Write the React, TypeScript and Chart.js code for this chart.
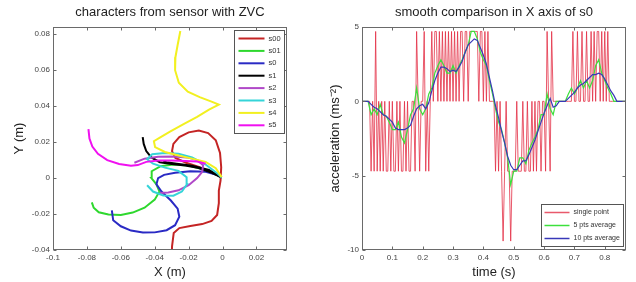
import React, { useEffect, useRef } from 'react';
import { Chart, registerables } from 'chart.js';

Chart.register(...registerables);

const FONT = "'Liberation Sans', Arial, Helvetica, sans-serif";

// ---------- Left chart: trajectories (x, y in metres) ----------
const trajLabels = ['s00', 's01', 's0', 's1', 's2', 's3', 's4', 's5'];
const trajColors = ['#c42424', '#2ed82e', '#2a2ac4', '#000000', '#b048c8', '#35d4d8', '#f2f020', '#f010f0'];

const s00 = [[-0.0300,-0.0460],[-0.0298,-0.0380],[-0.0288,-0.0305],[-0.0255,-0.0278],[-0.0190,-0.0266],[-0.0120,-0.0256],[-0.0065,-0.0238],[-0.0032,-0.0205],[-0.0022,-0.0140],[-0.0022,-0.0070],[-0.0012,-0.0015],[-0.0008,0.0060],[-0.0015,0.0140],[-0.0040,0.0210],[-0.0085,0.0250],[-0.0140,0.0264],[-0.0200,0.0254],[-0.0255,0.0228],[-0.0290,0.0190],[-0.0298,0.0150],[-0.0278,0.0112],[-0.0215,0.0085],[-0.0135,0.0060],[-0.0055,0.0027],[-0.0008,0.0004]];
const s01 = [[-0.0771,-0.0135],[-0.0760,-0.0165],[-0.0730,-0.0190],[-0.0673,-0.0203],[-0.0600,-0.0205],[-0.0530,-0.0192],[-0.0460,-0.0165],[-0.0400,-0.0120],[-0.0372,-0.0075],[-0.0390,-0.0035],[-0.0420,0.0000],[-0.0418,0.0038],[-0.0365,0.0066],[-0.0290,0.0076],[-0.0200,0.0070],[-0.0110,0.0048],[-0.0030,0.0015],[-0.0005,0.0003]];
const s0 = [[-0.0653,-0.0180],[-0.0645,-0.0235],[-0.0600,-0.0268],[-0.0540,-0.0292],[-0.0470,-0.0303],[-0.0400,-0.0302],[-0.0330,-0.0290],[-0.0280,-0.0262],[-0.0255,-0.0215],[-0.0265,-0.0170],[-0.0305,-0.0125],[-0.0360,-0.0075],[-0.0390,-0.0035],[-0.0380,0.0000],[-0.0345,0.0018],[-0.0280,0.0030],[-0.0190,0.0038],[-0.0100,0.0035],[-0.0040,0.0020],[-0.0005,0.0003]];
const s1 = [[-0.0471,0.0228],[-0.0465,0.0190],[-0.0450,0.0150],[-0.0420,0.0115],[-0.0370,0.0088],[-0.0300,0.0078],[-0.0220,0.0070],[-0.0140,0.0056],[-0.0060,0.0028],[-0.0010,0.0005],[-0.0080,0.0045],[-0.0180,0.0068],[-0.0270,0.0080],[-0.0330,0.0088],[-0.0350,0.0092]];
const s2 = [[-0.0520,0.0085],[-0.0460,0.0108],[-0.0380,0.0118],[-0.0290,0.0120],[-0.0210,0.0115],[-0.0150,0.0100],[-0.0115,0.0072],[-0.0120,0.0035],[-0.0150,0.0000],[-0.0200,-0.0040],[-0.0260,-0.0068],[-0.0320,-0.0080],[-0.0370,-0.0083]];
const s3 = [[-0.0445,-0.0040],[-0.0410,-0.0075],[-0.0350,-0.0097],[-0.0290,-0.0098],[-0.0240,-0.0075],[-0.0210,-0.0035],[-0.0212,0.0005],[-0.0260,0.0040],[-0.0340,0.0058],[-0.0410,0.0080],[-0.0445,0.0105],[-0.0415,0.0132],[-0.0340,0.0140],[-0.0260,0.0135],[-0.0180,0.0115],[-0.0100,0.0075],[-0.0030,0.0025],[-0.0005,0.0003]];
const s4 = [[-0.0249,0.0818],[-0.0265,0.0740],[-0.0278,0.0672],[-0.0280,0.0600],[-0.0258,0.0530],[-0.0205,0.0480],[-0.0135,0.0450],[-0.0065,0.0425],[-0.0022,0.0408],[-0.0080,0.0380],[-0.0150,0.0340],[-0.0230,0.0300],[-0.0310,0.0258],[-0.0370,0.0225],[-0.0405,0.0205],[-0.0398,0.0172],[-0.0340,0.0145],[-0.0260,0.0125],[-0.0180,0.0108],[-0.0100,0.0090],[-0.0040,0.0055],[-0.0005,0.0005]];
const s5 = [[-0.0791,0.0272],[-0.0785,0.0220],[-0.0768,0.0175],[-0.0735,0.0135],[-0.0680,0.0100],[-0.0610,0.0078],[-0.0540,0.0068],[-0.0500,0.0072],[-0.0450,0.0090],[-0.0380,0.0098],[-0.0300,0.0098],[-0.0220,0.0095],[-0.0150,0.0092],[-0.0100,0.0080]];
const trajectories = [s00, s01, s0, s1, s2, s3, s4, s5];

const xTicksLeft = [-0.1, -0.08, -0.06, -0.04, -0.02, 0, 0.02];
const yTicksLeft = [-0.04, -0.02, 0, 0.02, 0.04, 0.06, 0.08];

// ---------- Right chart: acceleration (m/s^2) vs time (s) ----------
const singleStart = 0;
const singleStep = 0.005;
const singlePoint = [
  0, 0, 0, 0, 0, 0, -4.7, 0, -4.7, 4.7,
  -4.7, 0, -4.7, 0, -4.7, 0, -4.7, -4.7, 0, -4.7,
  0, -4.7, -4.7, 0, -4.7, 0, -4.7, -4.7, 0, -4.7,
  0, -4.7, -4.7, 0, 0, -4.7, 4.7, 0, -4.7, 0,
  0, 4.7, -4.7, 0, -4.7, 0, 4.7, 0, 4.7, 4.7,
  0, 4.7, 0, 4.7, 0, 4.7, 0, 4.7, 0, 4.7,
  0, 4.7, 0, 4.7, 0, 4.7, 4.7, 0, 4.7, 4.7,
  0, 4.7, 4.7, 4.7, 4.7, 4.7, 4.7, 0, 4.7, 4.7,
  0, 4.7, 0, 4.7, 0, 0, 0, 0, -4.7, 0,
  -4.7, 0, -4.7, -9.4, -4.7, 0, -4.7, -4.7, -9.4, -4.7,
  -4.7, -4.7, 0, -4.7, -4.7, -4.7, 0, -4.7, -4.7, 0,
  -4.7, -4.7, 0, -4.7, 0, -4.7, 0, 0, -4.7, 0,
  0, -4.7, 4.7, 0, -4.7, 4.7, 0, 0, 0, 0,
  0, 0, 0, 0, 0, 0, 0, 0, 0, 4.7,
  0, 0, 4.7, 0, 0, 4.7, 0, 0, 4.7, 0,
  0, 4.7, 0, 4.7, 0, 4.7, 4.7, 0, 4.7, 0,
  4.7, 0, 4.7, 0, 0, 0, 0, 0, 0, 0,
  0, 0, 0, 0, 0,
];

const avgStart = 0;
const avgStep = 0.01;
const avg5 = [
  0, 0, 0, -0.9, -0.5, -0.9, -0.2, -0.9, -1.0, -1.4,
  -1.9, -1.9, -1.4, -2.4, -2.8, -1.9, -0.9, -0.5, 0.9, -0.5,
  -0.9, -0.5, 0.5, 0.9, 1.9, 2.4, 2.8, 2.4, 1.9, 1.9,
  2.4, 1.9, 2.4, 2.8, 3.3, 3.8, 4.7, 4.7, 4.2, 3.3,
  2.8, 2.4, 1.4, 0.5, -0.5, -1.4, -1.9, -2.8, -3.8, -5.6,
  -4.7, -4.7, -3.8, -3.8, -4.2, -3.3, -2.8, -2.4, -1.9, -0.9,
  -0.9, 0.5, -0.5, -0.9, 0, 0, 0, 0, 0.5, 0.9,
  0.5, 0.9, 1.4, 0.9, 1.4, 0.9, 1.4, 2.4, 2.8, 1.9,
  1.4, 0.9, 0.5, 0, 0, 0, 0, 0,
];
const avg10 = [
  0, 0, 0, -0.2, -0.4, -0.5, -0.7, -0.9, -1.0, -1.2,
  -1.4, -1.8, -1.9, -1.9, -1.9, -1.8, -1.6, -1.0, -0.5, -0.3,
  -0.2, -0.5, -0.1, 0.7, 1.4, 1.9, 2.3, 2.3, 2.2, 2.0,
  2.1, 2.0, 2.3, 2.7, 3.3, 3.8, 4.0, 4.2, 4.1, 3.6,
  3.1, 2.5, 1.6, 0.7, -0.3, -1.1, -2.0, -2.8, -3.7, -4.3,
  -4.6, -4.6, -4.3, -4.0, -4.0, -3.6, -3.1, -2.6, -2.0, -1.4,
  -0.8, -0.3, 0.2, -0.4, -0.3, 0, 0, 0, 0.2, 0.4,
  0.6, 0.9, 1.1, 1.2, 1.4, 1.6, 1.8, 1.8, 1.9, 1.8,
  1.5, 1.1, 0.7, 0.4, 0, 0, 0, 0,
];
const seriesLabels = ['single point', '5 pts average', '10 pts average'];
const seriesColors = ['rgba(228,48,70,0.8)', '#3ce03c', '#3838b8'];

const timeTicks = [0, 0.1, 0.2, 0.3, 0.4, 0.5, 0.6, 0.7, 0.8];
const accTicks = [-10, -5, 0, 5];

// ---------- helpers ----------
const fmt = (v: any) => String(parseFloat(Number(v).toFixed(3)));

const framePlugin = {
  id: 'matlabFrame',
  afterDatasetsDraw(chart: any, _args: any, opts: any) {
    const { ctx, chartArea } = chart;
    const { left, right, top, bottom } = chartArea;
    const xs = chart.scales.x;
    const ys = chart.scales.y;
    ctx.save();
    ctx.strokeStyle = opts.color || '#666';
    ctx.lineWidth = 1;
    const L = Math.round(left) + 0.5, R = Math.round(right) - 0.5;
    const T = Math.round(top) + 0.5, B = Math.round(bottom) - 0.5;
    ctx.strokeRect(L, T, R - L, B - T);
    const tl = 3;
    ctx.beginPath();
    xs.ticks.forEach((t: any) => {
      const p = Math.round(xs.getPixelForValue(t.value)) + 0.5;
      ctx.moveTo(p, B); ctx.lineTo(p, B - tl);
      ctx.moveTo(p, T); ctx.lineTo(p, T + tl);
    });
    ys.ticks.forEach((t: any) => {
      const p = Math.round(ys.getPixelForValue(t.value)) + 0.5;
      ctx.moveTo(L, p); ctx.lineTo(L + tl, p);
      ctx.moveTo(R, p); ctx.lineTo(R - tl, p);
    });
    ctx.stroke();

    // legend box
    const lg = opts.legend;
    if (lg) {
      ctx.font = `${lg.fontSize}px ${FONT}`;
      const items = chart.data.datasets.map((d: any) => ({ label: d.label, color: d.borderColor }));
      const maxW = Math.max(...items.map((it: any) => ctx.measureText(it.label).width));
      const w = Math.round(lg.textOffset + maxW + lg.padRight);
      const h = Math.round(lg.padTop * 2 + (items.length - 1) * lg.rowHeight);
      const bx = Math.round(R - lg.inset - w) + 0.5;
      const by = lg.corner === 'ne' ? Math.round(T + lg.insetY) + 0.5 : Math.round(B - lg.insetY - h) + 0.5;
      ctx.fillStyle = '#fff';
      ctx.fillRect(bx, by, w, h);
      ctx.strokeStyle = '#555';
      ctx.strokeRect(bx, by, w, h);
      ctx.textBaseline = 'middle';
      ctx.textAlign = 'left';
      items.forEach((it: any, i: number) => {
        const y = by + lg.padTop + i * lg.rowHeight;
        ctx.strokeStyle = it.color;
        ctx.lineWidth = lg.lineWidth;
        ctx.beginPath();
        ctx.moveTo(bx + lg.lineStart, y);
        ctx.lineTo(bx + lg.lineStart + lg.lineLen, y);
        ctx.stroke();
        ctx.fillStyle = '#333';
        ctx.fillText(it.label, bx + lg.textOffset, y);
      });
    }
    ctx.restore();
  },
};

function axis(opts: any) {
  return {
    type: 'linear',
    min: opts.min,
    max: opts.max,
    afterBuildTicks: (s: any) => { s.ticks = opts.ticks.map((value: number) => ({ value })); },
    afterFit: (s: any) => { if (opts.width != null) s.width = opts.width; if (opts.height != null) s.height = opts.height; },
    grid: { display: false, drawTicks: false },
    border: { display: false },
    ticks: { font: { size: 8, family: FONT }, color: '#444', padding: 3, callback: fmt, maxRotation: 0, autoSkip: false },
    title: { display: true, text: opts.title, font: { size: 13, family: FONT }, color: '#222', padding: opts.titlePad },
  };
}

function baseOptions(title: string, padRight: number, scales: any, frame: any) {
  return {
    responsive: false,
    animation: false,
    events: [],
    layout: { padding: { left: 0, right: padRight, top: 0, bottom: 0 } },
    plugins: {
      legend: { display: false },
      tooltip: { enabled: false },
      title: {
        display: true, text: title, fullSize: false,
        font: { size: 13, weight: 'normal', family: FONT }, color: '#222',
        padding: { top: 5, bottom: 6.4 },
      },
      matlabFrame: frame,
    },
    elements: { point: { radius: 0 }, line: { tension: 0 } },
    scales,
  };
}

export default function App() {
  const leftRef = useRef<HTMLCanvasElement>(null);
  const rightRef = useRef<HTMLCanvasElement>(null);

  useEffect(() => {
    Chart.defaults.font.family = FONT;
    const left = new Chart(leftRef.current as HTMLCanvasElement, {
      type: 'scatter',
      data: {
        datasets: trajectories.map((pts, i) => ({
          label: trajLabels[i],
          data: pts.map(([x, y]) => ({ x, y })),
          borderColor: trajColors[i],
          backgroundColor: trajColors[i],
          borderWidth: 2,
          showLine: true,
          pointRadius: 0,
          order: trajectories.length - i,
        })),
      },
      options: baseOptions('characters from sensor with ZVC', 31, {
        x: axis({ min: -0.1, max: 0.038, ticks: xTicksLeft, title: 'X (m)', height: 32, titlePad: { top: 0, bottom: 2 } }),
        y: axis({ min: -0.04, max: 0.084, ticks: yTicksLeft, title: 'Y (m)', width: 53, titlePad: { top: 12, bottom: 0 } }),
      }, {
        color: '#6a6a6a',
        legend: { corner: 'ne', inset: 3, insetY: 2, fontSize: 7.5, rowHeight: 12.4, padTop: 8, lineStart: 4, lineLen: 26, textOffset: 34, padRight: 4, lineWidth: 2 },
      }) as any,
      plugins: [framePlugin],
    } as any);

    const mk = (vals: number[], start: number, step: number) => vals.map((y, i) => ({ x: +(start + i * step).toFixed(4), y }));
    const right = new Chart(rightRef.current as HTMLCanvasElement, {
      type: 'scatter',
      data: {
        datasets: [
          { label: seriesLabels[0], data: mk(singlePoint, singleStart, singleStep), borderColor: seriesColors[0], borderWidth: 1, showLine: true, pointRadius: 0, order: 2 },
          { label: seriesLabels[1], data: mk(avg5, avgStart, avgStep), borderColor: seriesColors[1], borderWidth: 1.2, showLine: true, pointRadius: 0, order: 1 },
          { label: seriesLabels[2], data: mk(avg10, avgStart, avgStep), borderColor: seriesColors[2], borderWidth: 1.2, showLine: true, pointRadius: 0, order: 0 },
        ],
      },
      options: baseOptions('smooth comparison in X axis of s0', 10, {
        x: axis({ min: 0, max: 0.87, ticks: timeTicks, title: 'time (s)', height: 32, titlePad: { top: 0, bottom: 2 } }),
        y: axis({ min: -10, max: 5, ticks: accTicks, title: 'acceleration (ms⁻²)', width: 44, titlePad: { top: 10, bottom: 0 } }),
      }, {
        color: '#6a6a6a',
        legend: { corner: 'se', inset: 3, insetY: 4, fontSize: 7, rowHeight: 13, padTop: 8, lineStart: 3, lineLen: 25, textOffset: 32, padRight: 4, lineWidth: 1.5 },
      }) as any,
      plugins: [framePlugin],
    } as any);

    return () => { left.destroy(); right.destroy(); };
  }, []);

  return (
    <div style={{ position: 'fixed', left: 0, top: 0, width: 636, height: 282, background: '#fff', overflow: 'hidden' }}>
      <canvas ref={leftRef} width={318} height={282} style={{ position: 'absolute', left: 0, top: 0, width: 318, height: 282 }} />
      <canvas ref={rightRef} width={318} height={282} style={{ position: 'absolute', left: 318, top: 0, width: 318, height: 282 }} />
    </div>
  );
}
